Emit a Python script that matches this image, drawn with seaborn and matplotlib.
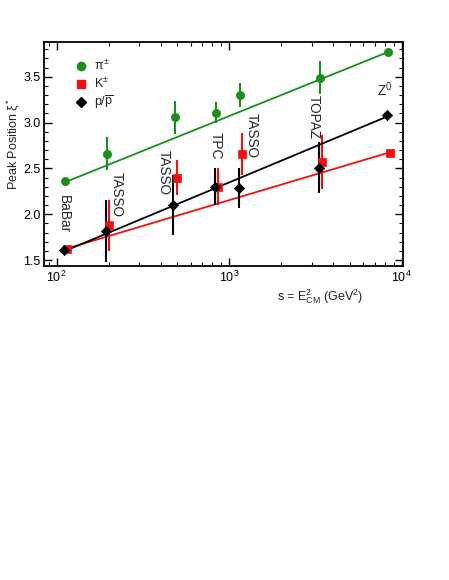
import numpy as np
import pandas as pd
import matplotlib
matplotlib.use("Agg")
import matplotlib.pyplot as plt
import seaborn as sns
from matplotlib.lines import Line2D
from matplotlib.ticker import LogLocator, MultipleLocator, FixedLocator, FixedFormatter

# --- data ---
experiments = ["BaBar", "TASSO", "TASSO", "TPC", "TASSO", "TOPAZ", "Z$^{0}$"]
s_values = [112, 196, 484, 841, 1156, 3364, 8317]

pi_peak = [2.36, 2.66, 3.06, 3.11, 3.30, 3.49, 3.77]
pi_err = [0.0, 0.18, 0.18, 0.11, 0.13, 0.18, 0.0]
k_peak = [1.62, 1.88, 2.40, 2.30, 2.66, 2.57, 2.67]
k_err = [0.0, 0.28, 0.19, 0.20, 0.23, 0.29, 0.0]
p_peak = [1.61, 1.82, 2.10, 2.30, 2.29, 2.51, 3.08]
p_err = [0.0, 0.34, 0.33, 0.20, 0.22, 0.28, 0.0]

# straight-line fits in log(s)
fit_s = [112, 8317]
fit_pi = [2.35, 3.77]
fit_k = [1.62, 2.67]
fit_p = [1.60, 3.07]

GREEN = "#1a8f1a"
RED = "#f01010"
BLACK = "#000000"

sns.set_theme(style="ticks")
plt.rcParams["font.family"] = ["Liberation Sans", "DejaVu Sans"]
plt.rcParams["mathtext.fontset"] = "custom"
plt.rcParams["mathtext.rm"] = "Liberation Sans"
plt.rcParams["mathtext.it"] = "Liberation Sans"
plt.rcParams["mathtext.bf"] = "Liberation Sans:bold"

fig = plt.figure(figsize=(4.49, 5.80), dpi=100)
ax = fig.add_axes([0.098, 0.5414, 0.7996, 0.3862])

species = [
    ("pi", pi_peak, pi_err, fit_pi, GREEN, "o", 5.2, 1.0),
    ("k", k_peak, k_err, fit_k, RED, "s", 4.8, 1.025),
    ("p", p_peak, p_err, fit_p, BLACK, "D", 4.6, 0.982),
]

for name, peak, err, fit, color, marker, ms, shift in species:
    fit_df = pd.DataFrame({"s": fit_s, "xi": fit})
    sns.lineplot(data=fit_df, x="s", y="xi", color=color, lw=1.3, ax=ax)
    xs = np.array(s_values) * shift
    ax.errorbar(xs, peak, yerr=err, fmt="none", ecolor=color, elinewidth=1.5, capsize=0)
    pts = pd.DataFrame({"s": xs, "xi": peak})
    sns.scatterplot(data=pts, x="s", y="xi", color=color, marker=marker,
                    s=ms ** 2 * 1.3, edgecolor=color, linewidth=0.5, ax=ax, zorder=5)

ax.set_xscale("log")
ax.set_xlim(84.5, 10170)
ax.set_ylim(1.435, 3.88)

# experiment labels
label_pos = [(110, 2.00), (222, 2.22), (420, 2.46), (840, 2.75),
             (1345, 2.86), (3080, 3.06), (7960, 3.355)]
for i, (name, (lx, ly)) in enumerate(zip(experiments, label_pos)):
    rot = 0 if i == len(experiments) - 1 else -90
    ax.text(lx, ly, name, rotation=rot, ha="center", va="center", fontsize=9.8)

ax.xaxis.set_major_locator(FixedLocator([1e2, 1e3, 1e4]))
ax.xaxis.set_major_formatter(FixedFormatter(["10$^{2}$", "10$^{3}$", "10$^{4}$"]))
ax.xaxis.set_minor_locator(LogLocator(base=10, subs=np.arange(2, 10)))
ax.xaxis.set_minor_formatter(FixedFormatter([]))
ax.yaxis.set_major_locator(MultipleLocator(0.5))
ax.yaxis.set_minor_locator(MultipleLocator(0.1))
ax.yaxis.set_major_formatter(matplotlib.ticker.FormatStrFormatter("%.1f"))

ax.tick_params(which="both", direction="in", top=True, right=True, labelsize=9,
               color="black", labelcolor="black")
ax.tick_params(which="major", length=6, width=1.0, pad=2.5)
ax.tick_params(which="minor", length=3, width=0.8)
for sp in ax.spines.values():
    sp.set_linewidth(1.3)
    sp.set_color("black")

ax.set_xlabel("s = E$_{\\mathrm{CM}}^{2}$ (GeV$^{2}$)", fontsize=9, x=0.77, labelpad=2)
ax.set_ylabel("Peak Position $\\xi^{*}$", fontsize=9, y=0.545)
ax.yaxis.set_label_coords(-0.06, 0.545)

handles = [
    Line2D([], [], ls="none", marker="o", color=GREEN, ms=6),
    Line2D([], [], ls="none", marker="s", color=RED, ms=5.5),
    Line2D([], [], ls="none", marker="D", color=BLACK, ms=5),
]
ax.legend(handles, ["$\\pi^{\\pm}$", "K$^{\\pm}$", "p/$\\overline{\\rm p}$"],
          loc="upper left", bbox_to_anchor=(0.045, 0.975), frameon=False,
          fontsize=9, handletextpad=0.3, labelspacing=0.25, handlelength=1.5)

fig.savefig("out.png", dpi=100, facecolor="white")
